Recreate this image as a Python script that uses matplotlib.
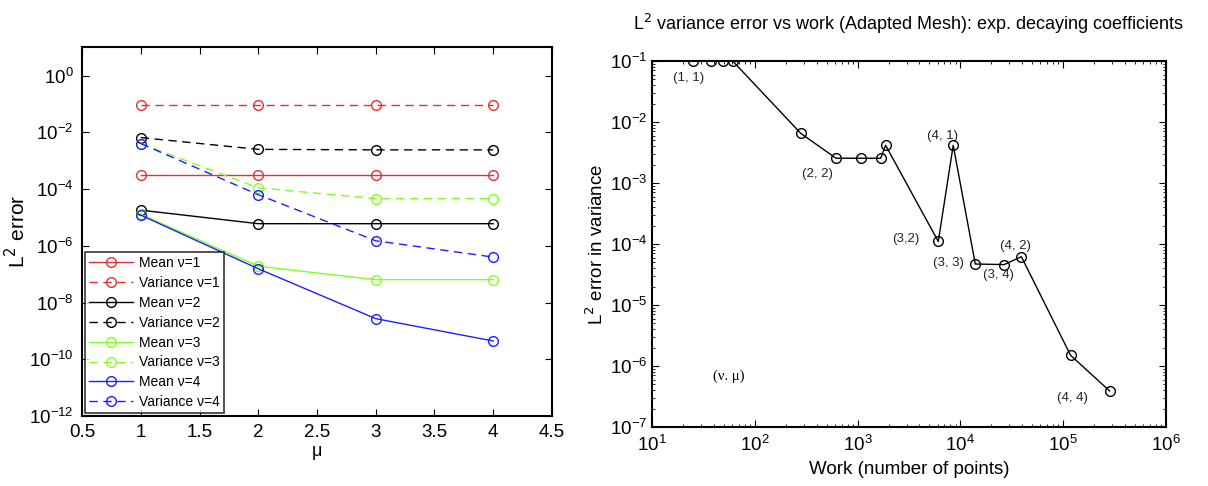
import numpy as np
import matplotlib
matplotlib.use('Agg')
import matplotlib.pyplot as plt
from matplotlib.ticker import LogLocator, NullFormatter

plt.rcParams['font.family'] = ['Liberation Sans', 'DejaVu Sans']

# 左图: L2 误差随 mu 变化
mu = [1, 2, 3, 4]
mean_err = {
    1: [3.2e-4, 3.2e-4, 3.2e-4, 3.2e-4],
    2: [1.8e-5, 6.0e-6, 6.0e-6, 6.0e-6],
    3: [1.3e-5, 1.9e-7, 6.4e-8, 6.4e-8],
    4: [1.2e-5, 1.55e-7, 2.7e-9, 4.4e-10],
}
var_err = {
    1: [9.5e-2, 9.5e-2, 9.5e-2, 9.5e-2],
    2: [6.5e-3, 2.5e-3, 2.4e-3, 2.4e-3],
    3: [4.0e-3, 1.1e-4, 4.6e-5, 4.6e-5],
    4: [4.0e-3, 6.3e-5, 1.5e-6, 4.0e-7],
}
colors = {1: '#e03232', 2: 'black', 3: '#80ff20', 4: '#1e1eff'}

# 右图: 方差误差与计算量
work = [25.3, 37.5, 48.7, 61, 281, 617, 1087, 1678, 1875, 6100, 8520,
        13970, 26700, 39200, 118000, 283000]
var_work_err = [0.1, 0.1, 0.1, 0.1, 6.5e-3, 2.55e-3, 2.55e-3, 2.55e-3, 4.15e-3,
                1.1e-4, 4.15e-3, 4.7e-5, 4.6e-5, 6.2e-5, 1.5e-6, 3.9e-7]
# (标签, 点序号, 像素偏移)
labels = [('(1, 1)', 0, (-5, -17)), ('(2, 2)', 5, (-19, -16)),
          ('(4, 1)', 10, (-11, 9)), ('(3,2)', 9, (-33, 2)),
          ('(3, 3)', 11, (-27, 1)), ('(3, 4)', 12, (-6, -10)),
          ('(4, 2)', 13, (-6, 11)), ('(4, 4)', 15, (-37, -7))]

fig = plt.figure(figsize=(12.08, 4.86), dpi=100)

ax1 = fig.add_axes([0.0679, 0.144, 0.389, 0.759])
for nu in [1, 2, 3, 4]:
    ax1.plot(mu, mean_err[nu], '-', color=colors[nu], marker='o', mfc='none',
             ms=7, lw=1, label='Mean \u03bd=%d' % nu)
    ax1.plot(mu, var_err[nu], '--', color=colors[nu], marker='o', mfc='none',
             ms=7, lw=1, dashes=(6, 4), label='Variance \u03bd=%d' % nu)
ax1.set_yscale('log')
ax1.set_xlim(0.5, 4.5)
ax1.set_ylim(1e-12, 1e1)
ax1.set_xticks(np.arange(0.5, 4.51, 0.5))
ax1.set_xticklabels(['0.5', '1', '1.5', '2', '2.5', '3', '3.5', '4', '4.5'])
ax1.set_yticks([1e-12, 1e-10, 1e-8, 1e-6, 1e-4, 1e-2, 1e0])
ax1.yaxis.set_minor_locator(plt.NullLocator())
ax1.tick_params(direction='in', top=True, right=True, labelsize=13.5, length=5)
ax1.tick_params(axis='x', pad=6)
ax1.tick_params(axis='y', pad=6)
ax1.set_xlabel('\u03bc', fontsize=13, labelpad=1)
ax1.set_ylabel('L$^2$ error', fontsize=15, labelpad=0)
leg = ax1.legend(loc='lower left', fontsize=10, frameon=True, fancybox=False,
                 edgecolor='black', handlelength=3.2, borderpad=0.3,
                 labelspacing=0.42, borderaxespad=0.2, handletextpad=0.4)
leg.get_frame().set_linewidth(1.2)
for s in ax1.spines.values():
    s.set_linewidth(1.5)

ax2 = fig.add_axes([0.5397, 0.1214, 0.4255, 0.753])
ax2.plot(work, var_work_err, '-', color='black', marker='o', mfc='none',
         ms=7, lw=1)
ax2.set_xscale('log')
ax2.set_yscale('log')
ax2.set_xlim(1e1, 1e6)
ax2.set_ylim(1e-7, 1e-1)
ax2.xaxis.set_minor_locator(LogLocator(base=10, subs=np.arange(2, 10)))
ax2.yaxis.set_minor_locator(LogLocator(base=10, subs=np.arange(2, 10)))
ax2.xaxis.set_minor_formatter(NullFormatter())
ax2.yaxis.set_minor_formatter(NullFormatter())
ax2.tick_params(which='both', direction='in', top=True, right=True)
ax2.tick_params(which='major', labelsize=13.5, length=5)
ax2.tick_params(which='minor', length=2.5)
ax2.tick_params(axis='x', which='major', pad=6)
for s in ax2.spines.values():
    s.set_linewidth(1.5)
for txt, i, off in labels:
    ax2.annotate(txt, (work[i], var_work_err[i]), xytext=off,
                 textcoords='offset pixels', ha='center', va='center',
                 fontsize=9.5, color='#222222')
ax2.text(0.15, 0.14, '(\u03bd. \u03bc)', transform=ax2.transAxes,
         ha='center', va='center', fontsize=10.5,
         family=['Liberation Serif', 'DejaVu Serif'])
ax2.set_xlabel('Work (number of points)', fontsize=13.5, labelpad=4)
ax2.set_ylabel('L$^2$ error in variance', fontsize=13.5, labelpad=2)
ax2.set_title('L$^2$ variance error vs work (Adapted Mesh): exp. decaying coefficients',
              fontsize=13, pad=22)

fig.savefig('out.png', dpi=100)
